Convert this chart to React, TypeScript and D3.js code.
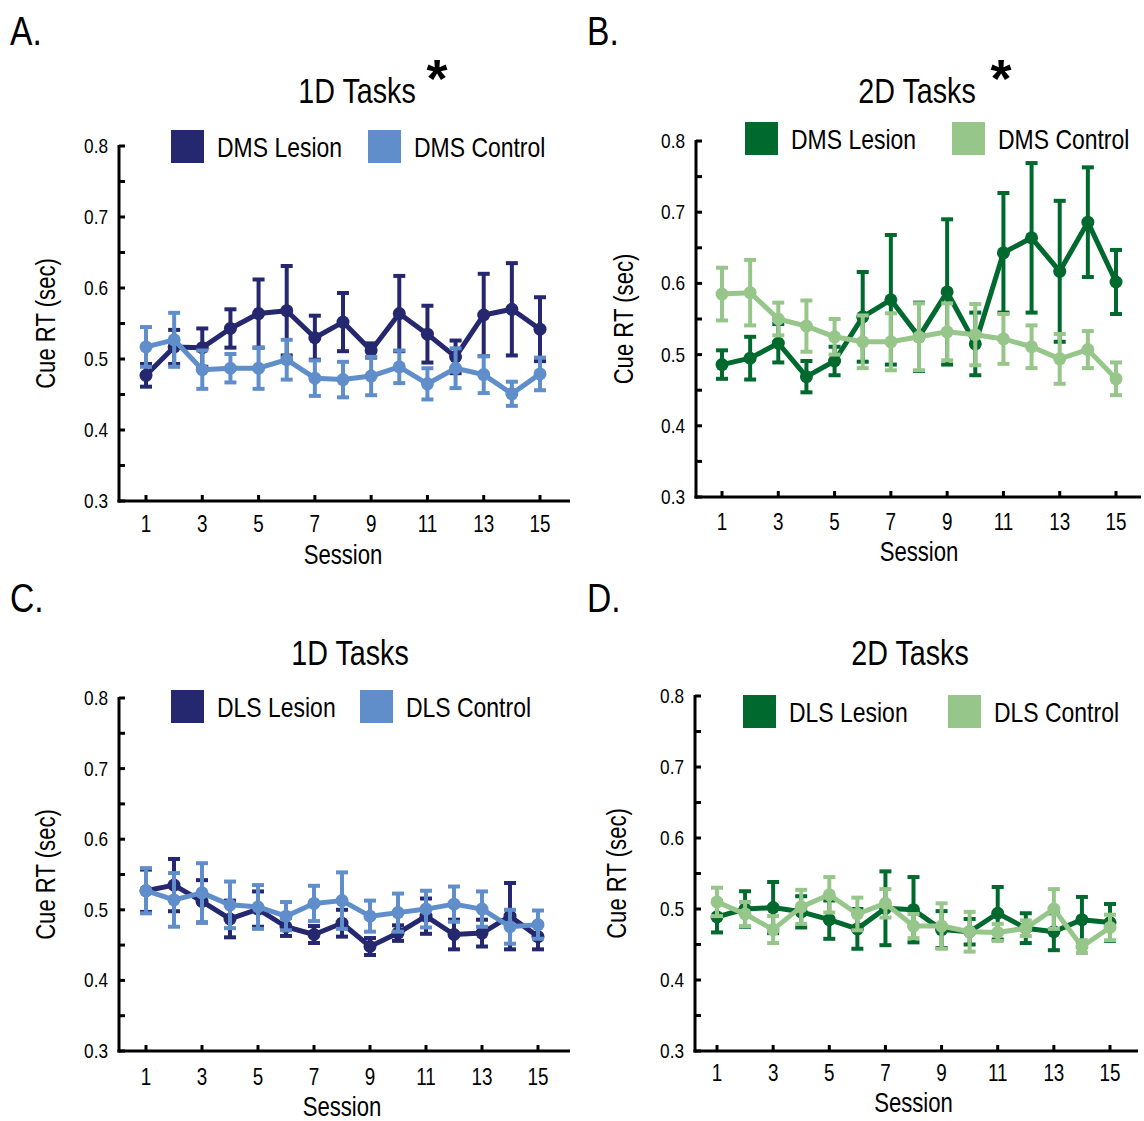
import React, { useRef, useEffect } from 'react';
import * as d3 from 'd3';

const sessions = [1, 2, 3, 4, 5, 6, 7, 8, 9, 10, 11, 12, 13, 14, 15];
const sessionTicks = [1, 3, 5, 7, 9, 11, 13, 15];
const rtTicks = [0.3, 0.4, 0.5, 0.6, 0.7, 0.8];
const rtMinorTicks = [0.3, 0.35, 0.4, 0.45, 0.5, 0.55, 0.6, 0.65, 0.7, 0.75, 0.8];

// A. DMS, 1D tasks
const dmsLesion1D = [0.477, 0.517, 0.516, 0.543, 0.564, 0.568, 0.530, 0.552, 0.512, 0.564, 0.535, 0.503, 0.562, 0.570, 0.542];
const dmsLesion1DErr = [0.016, 0.024, 0.027, 0.027, 0.048, 0.063, 0.031, 0.041, 0.010, 0.053, 0.040, 0.023, 0.058, 0.065, 0.045];
const dmsControl1D = [0.517, 0.527, 0.485, 0.487, 0.487, 0.499, 0.473, 0.471, 0.476, 0.489, 0.465, 0.487, 0.478, 0.451, 0.479];
const dmsControl1DErr = [0.028, 0.038, 0.027, 0.020, 0.029, 0.028, 0.025, 0.025, 0.027, 0.023, 0.022, 0.028, 0.026, 0.017, 0.023];

// B. DMS, 2D tasks
const dmsLesion2D = [0.486, 0.495, 0.516, 0.469, 0.491, 0.553, 0.577, 0.525, 0.588, 0.515, 0.643, 0.664, 0.617, 0.686, 0.602];
const dmsLesion2DErr = [0.020, 0.030, 0.027, 0.022, 0.020, 0.063, 0.091, 0.048, 0.102, 0.044, 0.084, 0.105, 0.099, 0.077, 0.045];
const dmsControl2D = [0.585, 0.587, 0.550, 0.540, 0.525, 0.518, 0.518, 0.525, 0.532, 0.528, 0.522, 0.511, 0.494, 0.507, 0.466];
const dmsControl2DErr = [0.037, 0.046, 0.023, 0.036, 0.025, 0.037, 0.040, 0.047, 0.040, 0.043, 0.035, 0.030, 0.035, 0.026, 0.023];

// C. DLS, 1D tasks
const dlsLesion1D = [0.527, 0.535, 0.512, 0.487, 0.501, 0.476, 0.465, 0.481, 0.448, 0.467, 0.491, 0.465, 0.467, 0.491, 0.462];
const dlsLesion1DErr = [0.030, 0.037, 0.030, 0.026, 0.025, 0.013, 0.012, 0.019, 0.012, 0.011, 0.025, 0.021, 0.019, 0.047, 0.018];
const dlsControl1D = [0.527, 0.514, 0.524, 0.507, 0.504, 0.491, 0.509, 0.513, 0.491, 0.496, 0.501, 0.508, 0.501, 0.476, 0.479];
const dlsControl1DErr = [0.032, 0.038, 0.042, 0.033, 0.031, 0.020, 0.025, 0.040, 0.022, 0.027, 0.026, 0.025, 0.025, 0.024, 0.020];

// D. DLS, 2D tasks
const dlsLesion2D = [0.489, 0.500, 0.502, 0.496, 0.485, 0.472, 0.501, 0.499, 0.471, 0.468, 0.494, 0.473, 0.468, 0.485, 0.481];
const dlsLesion2DErr = [0.022, 0.025, 0.036, 0.022, 0.027, 0.028, 0.052, 0.046, 0.026, 0.018, 0.037, 0.021, 0.026, 0.032, 0.026];
const dlsControl2D = [0.510, 0.493, 0.471, 0.503, 0.520, 0.493, 0.508, 0.476, 0.476, 0.468, 0.467, 0.473, 0.500, 0.447, 0.474];
const dlsControl2DErr = [0.020, 0.017, 0.019, 0.024, 0.025, 0.023, 0.020, 0.017, 0.032, 0.028, 0.012, 0.011, 0.028, 0.009, 0.018];

const NAVY = '#25276f';
const SKY = '#5f8ecb';
const GREEN = '#00692e';
const MINT = '#97c68a';

const FONT = '"Liberation Sans", Arial, sans-serif';
const SQUEEZE = 0.82; // the original uses a condensed face

// layout for each panel (positions only)
const panels = [
  {
    letter: 'A.', letterX: 10, letterY: 45, title: '1D Tasks', star: true, titleX: 357, titleY: 103, starX: 437,
    axisX: 119, x1: 146, x15: 540, axisEnd: 570, yTop: 146, yBottom: 501,
    legendX: [171, 368], legendY: 130, labels: ['DMS Lesion', 'DMS Control'], colors: [NAVY, SKY],
    lesion: dmsLesion1D, lesionErr: dmsLesion1DErr, control: dmsControl1D, controlErr: dmsControl1DErr,
    tickY: 532, sessionY: 564, yLabelX: 55,
  },
  {
    letter: 'B.', letterX: 587, letterY: 45, title: '2D Tasks', star: true, titleX: 917, titleY: 103, starX: 1001,
    axisX: 696, x1: 722, x15: 1116, axisEnd: 1141, yTop: 141, yBottom: 497,
    legendX: [745, 952], legendY: 122, labels: ['DMS Lesion', 'DMS Control'], colors: [GREEN, MINT],
    lesion: dmsLesion2D, lesionErr: dmsLesion2DErr, control: dmsControl2D, controlErr: dmsControl2DErr,
    tickY: 530, sessionY: 561, yLabelX: 633,
  },
  {
    letter: 'C.', letterX: 10, letterY: 612, title: '1D Tasks', star: false, titleX: 350, titleY: 665, starX: 0,
    axisX: 119, x1: 146, x15: 538, axisEnd: 570, yTop: 698, yBottom: 1051,
    legendX: [171, 360], legendY: 690, labels: ['DLS Lesion', 'DLS Control'], colors: [NAVY, SKY],
    lesion: dlsLesion1D, lesionErr: dlsLesion1DErr, control: dlsControl1D, controlErr: dlsControl1DErr,
    tickY: 1085, sessionY: 1116, yLabelX: 55,
  },
  {
    letter: 'D.', letterX: 587, letterY: 612, title: '2D Tasks', star: false, titleX: 910, titleY: 665, starX: 0,
    axisX: 695, x1: 717, x15: 1110, axisEnd: 1138, yTop: 696, yBottom: 1051,
    legendX: [743, 948], legendY: 695, labels: ['DLS Lesion', 'DLS Control'], colors: [GREEN, MINT],
    lesion: dlsLesion2D, lesionErr: dlsLesion2DErr, control: dlsControl2D, controlErr: dlsControl2DErr,
    tickY: 1081, sessionY: 1112, yLabelX: 626,
  },
];

// condensed text: place at (x, y), optionally rotated, squeezed along its run
const addText = (g, x, y, str, size, anchor = 'start', rotate = 0) =>
  g.append('text')
    .attr('transform', `translate(${x},${y}) rotate(${rotate}) scale(${SQUEEZE},1)`)
    .attr('text-anchor', anchor)
    .attr('font-size', size)
    .text(str);

const App = () => {
  const svgRef = useRef(null);

  useEffect(() => {
    const svg = d3.select(svgRef.current);
    svg.selectAll('*').remove();

    svg.append('rect').attr('width', 1144).attr('height', 1121).attr('fill', '#fff');

    panels.forEach(p => {
      const g = svg.append('g').attr('font-family', FONT);

      const x = d3.scaleLinear().domain([1, 15]).range([p.x1, p.x15]);
      const y = d3.scaleLinear().domain([0.3, 0.8]).range([p.yBottom, p.yTop]);

      // panel letter, title, significance star
      addText(g, p.letterX, p.letterY, p.letter, 41);
      addText(g, p.titleX, p.titleY, p.title, 35, 'middle');
      if (p.star) {
        g.append('text').attr('x', p.starX).attr('y', p.titleY - 6)
          .attr('text-anchor', 'middle').attr('font-size', 54).attr('font-weight', 'bold')
          .text('*');
      }

      // legend
      p.labels.forEach((lab, i) => {
        g.append('rect').attr('x', p.legendX[i]).attr('y', p.legendY)
          .attr('width', 33).attr('height', 33).attr('fill', p.colors[i]);
        addText(g, p.legendX[i] + 46, p.legendY + 27, lab, 28);
      });

      // axes
      g.append('line').attr('x1', p.axisX).attr('x2', p.axisX)
        .attr('y1', y(0.8) - 1).attr('y2', y(0.3) + 1.5)
        .attr('stroke', '#000').attr('stroke-width', 3);
      g.append('line').attr('x1', p.axisX - 1.5).attr('x2', p.axisEnd)
        .attr('y1', y(0.3)).attr('y2', y(0.3))
        .attr('stroke', '#000').attr('stroke-width', 3);

      g.selectAll('.ytick').data(rtMinorTicks).enter().append('line')
        .attr('x1', p.axisX).attr('x2', p.axisX + 6)
        .attr('y1', d => y(d)).attr('y2', d => y(d))
        .attr('stroke', '#000').attr('stroke-width', 3);
      rtTicks.forEach(d => addText(g, p.axisX - 11, y(d) + 7, d3.format('.1f')(d), 21, 'end'));

      g.selectAll('.xtick').data(sessionTicks).enter().append('line')
        .attr('x1', d => x(d)).attr('x2', d => x(d))
        .attr('y1', y(0.3)).attr('y2', y(0.3) - 6)
        .attr('stroke', '#000').attr('stroke-width', 3);
      sessionTicks.forEach(d => addText(g, x(d), p.tickY, String(d), 23, 'middle'));

      addText(g, x(8), p.sessionY, 'Session', 27, 'middle');
      const midY = (p.yTop + p.yBottom) / 2;
      addText(g, p.yLabelX, midY, 'Cue RT (sec)', 27, 'middle', -90);

      // series: lesion first, control on top
      const series = [
        { vals: p.lesion, err: p.lesionErr, color: p.colors[0] },
        { vals: p.control, err: p.controlErr, color: p.colors[1] },
      ];
      series.forEach(s => {
        const pts = sessions.map((sess, i) => ({ sess, v: s.vals[i], e: s.err[i] }));
        const line = d3.line().x(d => x(d.sess)).y(d => y(d.v));
        const sg = g.append('g');
        sg.selectAll('.bar').data(pts).enter().append('line')
          .attr('x1', d => x(d.sess)).attr('x2', d => x(d.sess))
          .attr('y1', d => y(d.v - d.e)).attr('y2', d => y(d.v + d.e))
          .attr('stroke', s.color).attr('stroke-width', 4);
        [1, -1].forEach(sign => {
          sg.selectAll('.cap').data(pts).enter().append('line')
            .attr('x1', d => x(d.sess) - 6).attr('x2', d => x(d.sess) + 6)
            .attr('y1', d => y(d.v + sign * d.e)).attr('y2', d => y(d.v + sign * d.e))
            .attr('stroke', s.color).attr('stroke-width', 4);
        });
        sg.append('path').datum(pts).attr('d', line)
          .attr('fill', 'none').attr('stroke', s.color).attr('stroke-width', 5)
          .attr('stroke-linejoin', 'round');
        sg.selectAll('circle').data(pts).enter().append('circle')
          .attr('cx', d => x(d.sess)).attr('cy', d => y(d.v)).attr('r', 6.5)
          .attr('fill', s.color);
      });
    });

    svg.attr('width', 1144).attr('height', 1121);
  }, []);

  return (
    <svg ref={svgRef} style={{ position: 'absolute', left: 0, top: 0, display: 'block' }}></svg>
  );
};

export default App;
